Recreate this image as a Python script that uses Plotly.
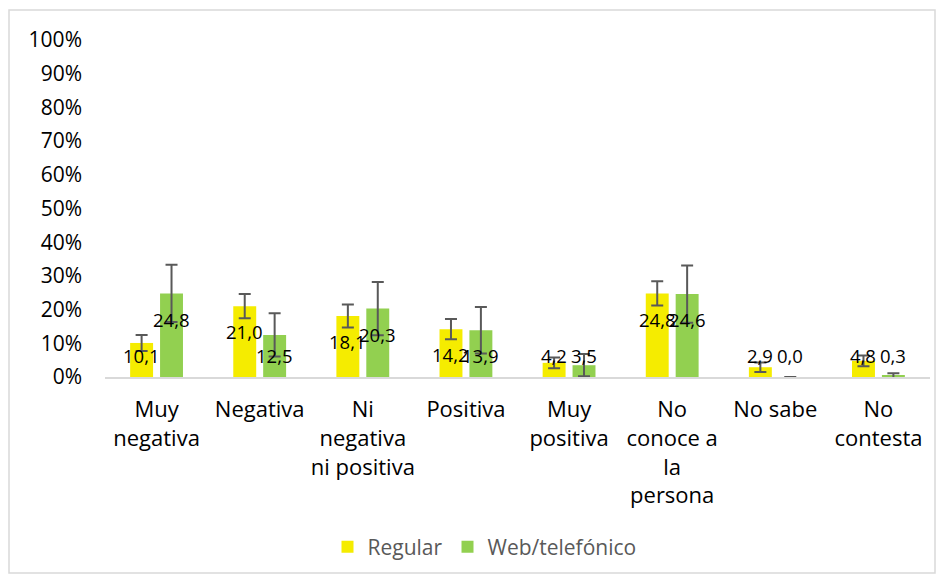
import plotly.graph_objects as go

categories = ["Muy<br>negativa", "Negativa", "Ni<br>negativa<br>ni positiva", "Positiva",
              "Muy<br>positiva", "No<br>conoce a<br>la<br>persona", "No sabe", "No<br>contesta"]
regular = [10.1, 21.0, 18.1, 14.2, 4.2, 24.8, 2.9, 4.8]
web = [24.8, 12.5, 20.3, 13.9, 3.5, 24.6, 0.0, 0.3]
regular_err = [2.4, 3.6, 3.4, 3.0, 1.6, 3.6, 1.4, 1.6]
web_err = [8.5, 6.4, 7.9, 6.9, 3.3, 8.5, None, 0.8]
y_ticks = list(range(0, 101, 10))
y_tick_labels = [f"{t}%" for t in y_ticks]

YELLOW = "#F5EC00"
GREEN = "#92D050"
ERR = "#595959"
FONT = "Open Sans"

W, H = 944, 579
L, R, T, B = 105, 14, 40, 202

fig = go.Figure()
for name, vals, errs, color in [("Regular", regular, regular_err, YELLOW),
                                ("Web/telefónico", web, web_err, GREEN)]:
    fig.add_trace(go.Bar(
        x=categories, y=vals, name=name, marker_color=color, marker_line_width=0,
        error_y=dict(type="data", array=errs, visible=True, color=ERR,
                     thickness=2, width=6),
        textposition="none",
    ))

# value labels, placed just inside the top of each bar
n = len(categories)
for i in range(n):
    for j, vals in enumerate([regular, web]):
        v = vals[i]
        fig.add_annotation(
            x=i, y=max(v - 7.6, 6.3), xref="x", yref="y",
            xshift=(-15 if j == 0 else 15),
            text=f"{v:.1f}".replace(".", ","), showarrow=False,
            font=dict(family=FONT, size=18.5, color="#000000"),
        )

fig.update_layout(
    width=W, height=H,
    margin=dict(l=L, r=R, t=T, b=B),
    paper_bgcolor="white", plot_bgcolor="white",
    barmode="group", bargap=0.42, bargroupgap=0.233,
    font=dict(family=FONT, size=21, color="#000000"),
    showlegend=True,
    legend=dict(orientation="h", x=0.46, xanchor="center", y=-0.505, yanchor="middle",
                font=dict(family=FONT, size=21, color="#595959"),
                itemsizing="constant", traceorder="normal"),
    xaxis=dict(type="category", range=[-0.5, n - 0.5], showline=True,
               linecolor="#D9D9D9", linewidth=2, showgrid=False, ticks="",
               tickfont=dict(family=FONT, size=22, color="#000000"),
               ticklabelstandoff=12),
    yaxis=dict(range=[0, 100], tickvals=y_ticks, ticktext=y_tick_labels,
               showgrid=False, showline=False, zeroline=False, ticks="",
               tickfont=dict(family=FONT, size=21, color="#000000"),
               ticklabelstandoff=22),
)

# outer chart border
pw, ph = W - L - R, H - T - B
x0, x1 = (9 - L) / pw, (935 - L) / pw
y0, y1 = (H - 573 - B) / ph, (H - 10 - B) / ph
fig.add_shape(type="rect", xref="paper", yref="paper", x0=x0, x1=x1, y0=y0, y1=y1,
              line=dict(color="#D9D9D9", width=1.5), fillcolor="rgba(0,0,0,0)",
              layer="below")

fig.write_html("out.html")
